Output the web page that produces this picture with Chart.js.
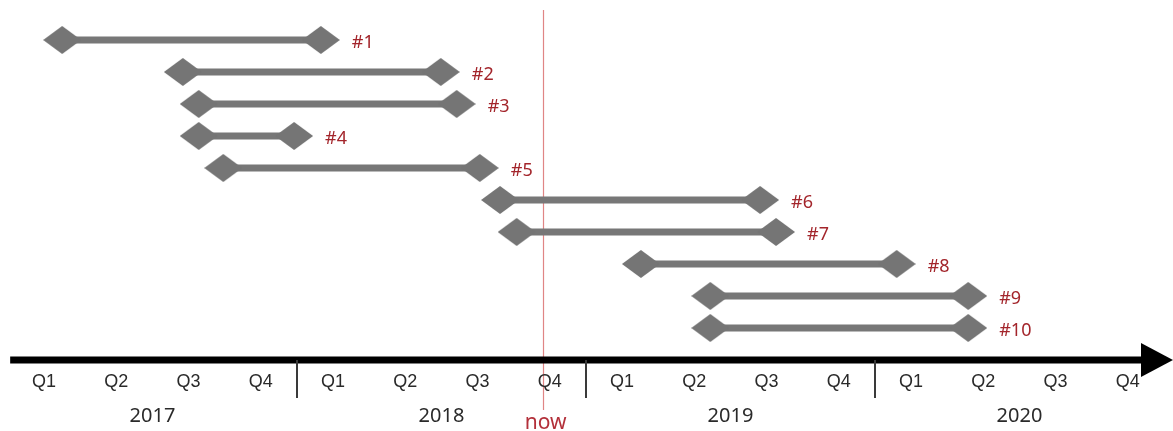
<!DOCTYPE html>
<html>
<head>
<meta charset="utf-8">
<script src="https://cdn.jsdelivr.net/npm/chart.js@4.4.1/dist/chart.umd.min.js"></script>
<style>
  html, body { margin: 0; padding: 0; background: #fff; }
  #wrap { width: 1173px; height: 431px; }
</style>
</head>
<body>
<div id="wrap"><canvas id="timeline" width="1173" height="431"></canvas></div>
<script>
// data: positions in quarters counted from start of 2017 Q1
const taskLabels = ["#1", "#2", "#3", "#4", "#5", "#6", "#7", "#8", "#9", "#10"];
const taskStart = [0.75, 2.42, 2.64, 2.64, 2.98, 6.81, 7.04, 8.76, 9.72, 9.72];
const taskEnd = [4.33, 5.99, 6.21, 3.96, 6.53, 10.41, 10.63, 12.30, 13.29, 13.29];
const quarterLabels = ["Q1", "Q2", "Q3", "Q4", "Q1", "Q2", "Q3", "Q4",
                       "Q1", "Q2", "Q3", "Q4", "Q1", "Q2", "Q3", "Q4"];
const yearLabels = ["2017", "2018", "2019", "2020"];
const nowPos = 7.4;
const nowLabel = "now";

// diamond marker (wider than tall)
function makeDiamond(w, h, color) {
  let c = document.createElement("canvas");
  c.width = w;
  c.height = h;
  let g = c.getContext("2d");
  g.fillStyle = color;
  g.beginPath();
  g.moveTo(w / 2, 0);
  g.lineTo(w, h / 2);
  g.lineTo(w / 2, h);
  g.lineTo(0, h / 2);
  g.closePath();
  g.fill();
  return c;
}
const diamond = makeDiamond(38, 28, "#757575");

const datasets = taskLabels.map((name, i) => ({
  label: name,
  data: [
    { x: taskStart[i], y: i + 1 },
    { x: taskEnd[i], y: i + 1 },
  ],
  borderColor: "#777777",
  borderWidth: 7,
  pointStyle: diamond,
  pointRadius: 14,
  pointHoverRadius: 14,
  clip: false,
}));

// axis, ticks, now line and task names
const timelinePlugin = {
  id: "timelineDecor",
  beforeDatasetsDraw(chart) {
    const ctx = chart.ctx;
    const x = chart.scales.x;
    const nx = Math.round(x.getPixelForValue(nowPos)) + 0.5;
    ctx.save();
    ctx.strokeStyle = "#e08585";
    ctx.lineWidth = 1.2;
    ctx.beginPath();
    ctx.moveTo(nx, 10);
    ctx.lineTo(nx, 410);
    ctx.stroke();
    ctx.restore();
  },
  afterDatasetsDraw(chart) {
    const ctx = chart.ctx;
    const x = chart.scales.x;
    const y = chart.scales.y;
    const axisY = y.getPixelForValue(11);
    ctx.save();

    // main axis with arrow
    const x0 = x.getPixelForValue(0.03);
    const tip = chart.width;
    ctx.fillStyle = "#000";
    ctx.fillRect(x0, axisY - 3.5, tip - 30 - x0, 7);
    ctx.beginPath();
    ctx.moveTo(tip - 32, axisY - 17);
    ctx.lineTo(tip, axisY);
    ctx.lineTo(tip - 32, axisY + 17);
    ctx.closePath();
    ctx.fill();

    // year dividers
    ctx.strokeStyle = "#3a3a3a";
    ctx.lineWidth = 2;
    [4, 8, 12].forEach(q => {
      const px = Math.round(x.getPixelForValue(q));
      ctx.beginPath();
      ctx.moveTo(px, axisY);
      ctx.lineTo(px, axisY + 38);
      ctx.stroke();
    });

    // quarter labels
    ctx.fillStyle = "#2a2a2a";
    ctx.textAlign = "center";
    ctx.textBaseline = "middle";
    ctx.font = "18px 'Liberation Sans', Arial, sans-serif";
    quarterLabels.forEach((q, i) => {
      ctx.fillText(q, x.getPixelForValue(i + 0.5), axisY + 22);
    });

    // year labels
    ctx.font = "20px 'Noto Sans', sans-serif";
    yearLabels.forEach((yr, i) => {
      ctx.fillText(yr, x.getPixelForValue(i * 4 + 2), axisY + 56);
    });

    // now label
    ctx.fillStyle = "#b3303a";
    ctx.font = "21px 'Noto Sans', sans-serif";
    ctx.fillText(nowLabel, x.getPixelForValue(nowPos) + 3, axisY + 63);

    // task names
    ctx.fillStyle = "#a3252b";
    ctx.textAlign = "left";
    ctx.font = "18px 'Noto Sans', sans-serif";
    taskLabels.forEach((name, i) => {
      ctx.fillText(name, x.getPixelForValue(taskEnd[i]) + 31, y.getPixelForValue(i + 1) + 3);
    });
    ctx.restore();
  },
};

const ctx = document.getElementById("timeline").getContext("2d");
new Chart(ctx, {
  type: "line",
  data: { datasets: datasets },
  options: {
    responsive: false,
    devicePixelRatio: 1,
    animation: false,
    layout: { padding: 0, autoPadding: false },
    plugins: {
      legend: { display: false },
      tooltip: { enabled: false },
    },
    scales: {
      x: {
        type: "linear",
        display: false,
        min: -8 / 72.25,
        max: 1165 / 72.25,
      },
      y: {
        type: "linear",
        display: false,
        reverse: true,
        min: -0.25,
        max: -0.25 + 431 / 32,
      },
    },
  },
  plugins: [timelinePlugin],
});
</script>
</body>
</html>
